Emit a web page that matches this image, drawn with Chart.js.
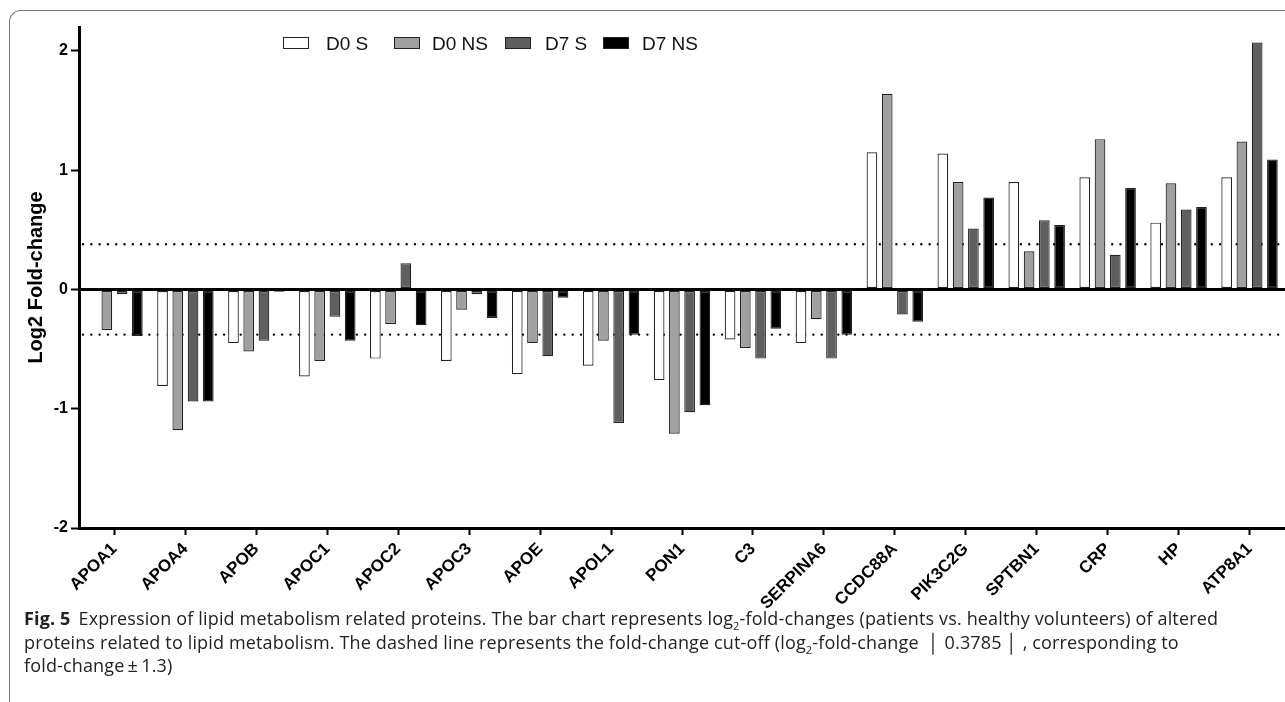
<!doctype html>
<html lang="en">
<head>
<title>Lipid metabolism proteins</title>
<meta charset="UTF-8" />
<style>
body{margin:0;background:#fff;width:1285px;height:702px;overflow:hidden;position:relative;font-family:"Liberation Sans",Arial,sans-serif}
#frame{position:absolute;left:9px;top:10px;width:1300px;height:720px;border-left:1.5px solid #777;border-top:1.5px solid #777;border-top-left-radius:12px}
#wrap{position:absolute;left:0;top:0;width:1285px;height:625px}
#legend{position:absolute;top:33px;left:283px;font-size:19px;color:#111}
#legend span.box{position:absolute;top:4px;width:26px;height:12px;border:1.2px solid #222;box-sizing:border-box}
#legend span.txt{position:absolute;top:0;white-space:nowrap}
#caption{position:absolute;left:24px;top:607px;font-family:"Open Sans","Noto Sans",sans-serif;font-size:18px;line-height:23.5px;color:#222;letter-spacing:0.15px;white-space:nowrap}
#caption b{font-weight:700;margin-right:8px}
#caption sub{font-size:11px;line-height:0}
</style>
</head>
<body>
<div id="frame"></div>
<div id="wrap"><canvas id="canvas" width="1285" height="625"></canvas></div>
<div id="legend"></div>
<div id="caption">
<b>Fig. 5</b>Expression of lipid metabolism related proteins. The bar chart represents log<sub>2</sub>-fold-changes (patients vs. healthy volunteers) of altered<br>
proteins related to lipid metabolism. The dashed line represents the fold-change cut-off (log<sub>2</sub>-fold-change &nbsp;&#x2502; 0.3785 &#x2502; , corresponding to<br>
fold-change&thinsp;&plusmn;&thinsp;1.3)
</div>

<script src="https://cdn.jsdelivr.net/npm/chart.js"></script>
<script>
const proteins = ['APOA1','APOA4','APOB','APOC1','APOC2','APOC3','APOE','APOL1','PON1','C3','SERPINA6','CCDC88A','PIK3C2G','SPTBN1','CRP','HP','ATP8A1']
const d0s  = [0.01,-0.81,-0.45,-0.73,-0.58,-0.60,-0.71,-0.64,-0.76,-0.42,-0.45,1.15,1.14,0.90,0.94,0.56,0.94]
const d0ns = [-0.34,-1.18,-0.52,-0.60,-0.29,-0.17,-0.45,-0.43,-1.21,-0.49,-0.25,1.64,0.90,0.32,1.26,0.89,1.24]
const d7s  = [-0.04,-0.94,-0.43,-0.23,0.22,-0.04,-0.56,-1.12,-1.03,-0.58,-0.58,-0.21,0.51,0.58,0.29,0.67,2.07]
const d7ns = [-0.39,-0.94,-0.02,-0.43,-0.30,-0.24,-0.07,-0.38,-0.97,-0.33,-0.38,-0.27,0.77,0.54,0.85,0.69,1.09]
const seriesNames = ['D0 S','D0 NS','D7 S','D7 NS']
const seriesFill = ['#ffffff','#a0a0a0','#5f5f5f','#000000']
const yTicks = [-2,-1,0,1,2]
const cutoff = 0.3785

const allSeries = [d0s,d0ns,d7s,d7ns]
const datasets = allSeries.map((vals,i)=>({
  label: seriesNames[i],
  data: vals,
  backgroundColor: seriesFill[i],
  borderColor: '#222',
  borderWidth: 1.2,
  borderSkipped: false,
  categoryPercentage: 0.86,
  barPercentage: 0.7
}))

// dotted cut-off lines at +/- cutoff
const cutoffLines = {
  id: 'cutoffLines',
  beforeDatasetsDraw(chart){
    const {ctx, chartArea, scales:{y}} = chart
    ctx.save()
    ctx.strokeStyle = '#000'
    ctx.lineWidth = 2.4
    ctx.lineCap = 'round'
    ctx.setLineDash([0, 8.3])
    for (const v of [cutoff, -cutoff]){
      const py = y.getPixelForValue(v)
      ctx.beginPath()
      ctx.moveTo(chartArea.left+4, py)
      ctx.lineTo(chartArea.right-5, py)
      ctx.stroke()
    }
    ctx.restore()
  }
}

const font = 'Liberation Sans'
new Chart(document.getElementById('canvas'), {
  type: 'bar',
  data: { labels: proteins, datasets: datasets },
  options: {
    responsive: false,
    animation: false,
    layout: { padding: { top: 27, right: 0, left: 0, bottom: 0 } },
    plugins: { legend: { display: false }, tooltip: { enabled: false } },
    scales: {
      x: {
        offset: true,
        grid: { offset: false, drawOnChartArea: false, drawTicks: true, tickLength: 7, tickColor: '#000', tickWidth: 2 },
        border: { color: '#000', width: 3 },
        ticks: { color: '#000', font: { family: font, size: 17, weight: 'bold' }, minRotation: 45, maxRotation: 45, padding: 4, autoSkip: false },
        afterFit(scale){ scale.height = 97 }
      },
      y: {
        min: -2, max: 2.2,
        afterBuildTicks(scale){ scale.ticks = yTicks.map(v=>({value:v})) },
        grid: {
          drawOnChartArea: true,
          color: c => (c.tick && c.tick.value === 0) ? '#000' : 'rgba(0,0,0,0)',
          lineWidth: c => (c.tick && c.tick.value === 0) ? 3 : 1,
          tickColor: '#000', tickWidth: 2, tickLength: 8
        },
        border: { color: '#000', width: 3 },
        ticks: { color: '#000', font: { family: font, size: 16, weight: 'bold' }, padding: 3 },
        title: { display: true, text: 'Log2 Fold-change', color: '#000', font: { family: font, size: 20, weight: 'bold' }, padding: { top: 24, bottom: 0 } },
        afterFit(scale){ scale.width = 79 }
      }
    }
  },
  plugins: [cutoffLines]
})

// legend drawn as html on top of the plot
const legendPos = [[0,43],[111,149],[222,262],[320,359]]
const lg = document.getElementById('legend')
seriesNames.forEach((n,i)=>{
  const b = document.createElement('span')
  b.className = 'box'
  b.style.left = legendPos[i][0]+'px'
  b.style.background = seriesFill[i]
  lg.appendChild(b)
  const t = document.createElement('span')
  t.className = 'txt'
  t.style.left = legendPos[i][1]+'px'
  t.textContent = n
  lg.appendChild(t)
})
</script>
</body>
</html>
